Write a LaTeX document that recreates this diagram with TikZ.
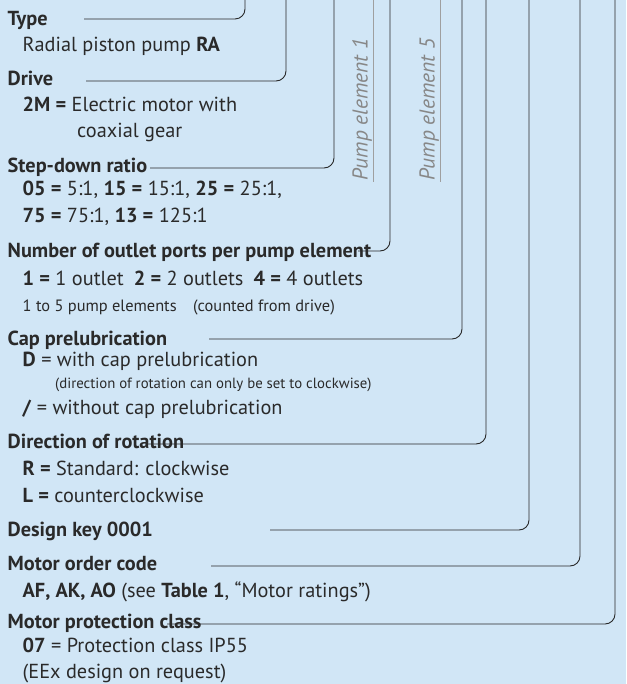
\documentclass[tikz,border=0pt]{standalone}
\usepackage{fontspec}
\setmainfont{PT Sans}
\usetikzlibrary{positioning}

\definecolor{keybg}{RGB}{209,230,246}
\definecolor{keytext}{RGB}{42,42,42}
\definecolor{keyline}{RGB}{40,40,40}
\definecolor{pumpgray}{RGB}{135,135,135}

\newcommand{\keysize}{\fontsize{20.3}{24}\selectfont}
\newcommand{\keynote}{\fontsize{16.4}{20}\selectfont}
\newcommand{\keysmall}{\fontsize{14.8}{18}\selectfont}

\tikzset{
  head/.style={anchor=base west,inner sep=0pt,text=keytext,font=\keysize\bfseries},
  item/.style={anchor=base west,inner sep=0pt,text=keytext,font=\keysize},
  note/.style={anchor=base west,inner sep=0pt,text=keytext,font=\keynote},
  smallnote/.style={anchor=base west,inner sep=0pt,text=keytext,font=\keysmall},
  codeline/.style={draw=keyline,line width=0.9pt,rounded corners=10pt},
  pumpline/.style={draw=pumpgray!80,line width=1pt},
  pumplabel/.style={rotate=90,anchor=south west,inner sep=1pt,text=pumpgray,font=\fontsize{21.5}{24}\selectfont\itshape}
}

\begin{document}
\begin{tikzpicture}[x=1pt,y=-1pt]
  \fill[keybg] (0,0) rectangle (626,684);
  \useasboundingbox (0,0) rectangle (626,684);

  % order key texts
  \node[head] (type) at (7.5,26) {Type};
  \node[item] (typeval) at (22.5,52) {Radial piston pump \textbf{RA}};

  \node[head] (drive) at (7.5,86) {Drive};
  \node[item] (driveval) at (22.5,112) {\textbf{2M =} Electric motor with};
  \node[item] (driveval2) at (77,138) {coaxial gear};

  \node[head] (ratio) at (7.5,173) {Step-down ratio};
  \node[item] (ratioval) at (22.5,196) {\textbf{05 =} 5:1, \textbf{15 =} 15:1, \textbf{25 =} 25:1,};
  \node[item] (ratioval2) at (22.5,223) {\textbf{75 =} 75:1, \textbf{13 =} 125:1};

  \node[head] (outlets) at (7.5,257.5) {Number of outlet ports per pump element};
  \node[item] (outletsval) at (22.5,285) {\textbf{1 =} 1 outlet\hspace{0.5em}\textbf{2 =} 2 outlets\hspace{0.5em}\textbf{4 =} 4 outlets};
  \node[note] (outletsnote) at (22.5,311.5) {1 to 5 pump elements\hspace{1em}(counted from drive)};

  \node[head] (cap) at (7.5,345.5) {Cap prelubrication};
  \node[item] (capval) at (22.5,366.5) {\textbf{D} = with cap prelubrication};
  \node[smallnote] (capnote) at (55,388) {(direction of rotation can only be set to clockwise)};
  \node[item] (capval2) at (22.5,414) {\textbf{/} = without cap prelubrication};

  \node[head] (rotation) at (7.5,448) {Direction of rotation};
  \node[item] (rotationval) at (22.5,475.5) {\textbf{R =} Standard: clockwise};
  \node[item] (rotationval2) at (22.5,502) {\textbf{L =} counterclockwise};

  \node[head] (design) at (7.5,536) {Design key 0001};

  \node[head] (motor) at (7.5,570.5) {Motor order code};
  \node[item] (motorval) at (22.5,597.5) {\textbf{AF, AK, AO} (see \textbf{Table 1}, “Motor ratings”)};

  \node[head] (protection) at (7.5,628) {Motor protection class};
  \node[item] (protectionval) at (22.5,652.5) {\textbf{07} = Protection class IP55};
  \node[item] (protectionval2) at (22.5,678) {(EEx design on request)};

  % pump element marks
  \coordinate (pumpAtop) at (373,0);
  \coordinate (pumpAend) at (373,182);
  \coordinate (pumpBtop) at (440,0);
  \coordinate (pumpBend) at (440,182);
  \draw[pumpline] (pumpAtop) -- (pumpAend);
  \draw[pumpline] (pumpBtop) -- (pumpBend);
  \node[pumplabel] (pumpA) at (pumpAend) {Pump element 1};
  \node[pumplabel] (pumpB) at (pumpBend) {Pump element 5};

  % leader lines up to the order code
  \coordinate (typeL) at (84,19);       \coordinate (typeT) at (245,0);
  \coordinate (driveL) at (86,81);      \coordinate (driveT) at (286,0);
  \coordinate (ratioL) at (150,168);    \coordinate (ratioT) at (334,0);
  \coordinate (outletsL) at (358,251);  \coordinate (outletsT) at (390,0);
  \coordinate (capL) at (209,339);      \coordinate (capT) at (462,0);
  \coordinate (rotationL) at (145,444); \coordinate (rotationT) at (486,0);
  \coordinate (designL) at (270,530);   \coordinate (designT) at (529,0);
  \coordinate (motorL) at (211,566);    \coordinate (motorT) at (580,0);
  \coordinate (protectionL) at (167,624); \coordinate (protectionT) at (615,0);

  \foreach \k in {type,drive,ratio,outlets,cap,rotation,design,motor,protection}
    \draw[codeline] (\k L) -| (\k T);
\end{tikzpicture}
\end{document}
